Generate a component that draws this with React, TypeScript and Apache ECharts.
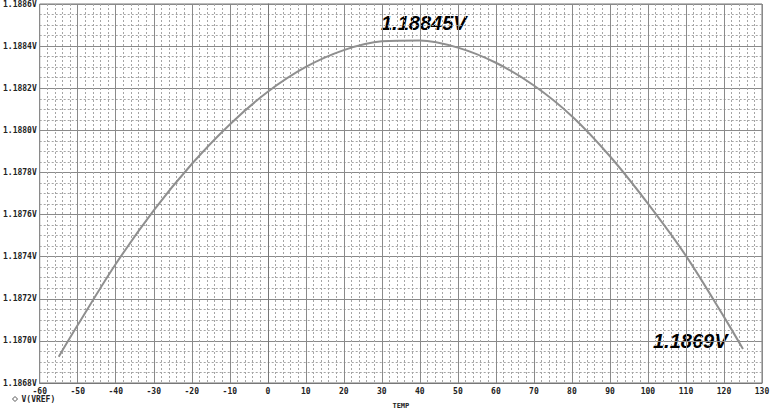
import React, { useEffect, useRef } from 'react';
import * as echarts from 'echarts';

// temperature sweep (deg C) and reference voltage
const temps = [-55, -50, -40, -30, -20, -10, 0, 10, 20, 30, 40, 50, 60, 70, 80, 90, 100, 110, 120, 125];
const vref = [
  1.186925, 1.187075, 1.187365, 1.187620, 1.187840, 1.188028, 1.188183, 1.188301, 1.188381, 1.188423,
  1.188427, 1.188393, 1.188321, 1.188213, 1.188067, 1.187877, 1.187652, 1.187404, 1.187114, 1.186961,
];
const peakLabel = '1.18845V';
const endLabel = '1.1869V';

const labelFont = { fontSize: 8, fontFamily: 'DejaVu Sans Mono', fontWeight: 'bold' as const, color: '#222' };

const App: React.FC = () => {
  const chartRef = useRef<HTMLDivElement>(null);

  useEffect(() => {
    if (!chartRef.current) return;
    const chart = echarts.init(chartRef.current, undefined, { renderer: 'svg' });
    const option = {
      animation: false,
      backgroundColor: '#fff',
      grid: { left: 39, top: 4, width: 723, height: 380, show: true, borderColor: '#777', borderWidth: 1 },
      legend: {
        left: 7,
        top: 390,
        icon: 'diamond',
        itemWidth: 5,
        itemHeight: 5,
        itemGap: 4,
        textStyle: { ...labelFont, padding: [0, 0, 0, -1] },
        data: [{ name: 'V(VREF)', itemStyle: { color: '#fff', borderColor: '#555', borderWidth: 1 } }],
      },
      xAxis: {
        type: 'value',
        min: -60,
        max: 130,
        interval: 10,
        name: 'TEMP',
        nameLocation: 'middle',
        nameGap: 19,
        nameTextStyle: { ...labelFont, fontSize: 7 },
        axisLine: { show: true, lineStyle: { color: '#777' } },
        axisTick: { show: false },
        axisLabel: { ...labelFont, margin: 4 },
        splitLine: { show: true, lineStyle: { color: '#8a8a8a', width: 1 } },
        minorTick: { show: false, splitNumber: 5 },
        minorSplitLine: { show: true, lineStyle: { color: '#a5a5a5', type: [2, 2], width: 1 } },
      },
      yAxis: {
        type: 'value',
        min: 1.1868,
        max: 1.1886,
        interval: 0.0002,
        axisLine: { show: true, lineStyle: { color: '#777' } },
        axisTick: { show: false },
        axisLabel: {
          ...labelFont,
          margin: 3,
          formatter: (v: number) => v.toFixed(4) + 'V',
        },
        splitLine: { show: true, lineStyle: { color: '#8a8a8a', width: 1 } },
        minorTick: { show: false, splitNumber: 4 },
        minorSplitLine: { show: true, lineStyle: { color: '#a5a5a5', type: [2, 2], width: 1 } },
      },
      series: [
        {
          name: 'V(VREF)',
          type: 'line',
          smooth: 0.35,
          showSymbol: false,
          data: temps.map((t, i) => [t, vref[i]]),
          lineStyle: { color: '#8f8f8f', width: 2 },
          itemStyle: { color: '#8f8f8f' },
        },
      ],
      graphic: [
        {
          type: 'text',
          left: 381,
          top: 13,
          style: {
            text: peakLabel,
            font: 'italic bold 20px "Liberation Sans", Arial, sans-serif',
            fill: '#000',
          },
        },
        {
          type: 'text',
          left: 653,
          top: 331,
          style: {
            text: endLabel,
            font: 'italic bold 20px "Liberation Sans", Arial, sans-serif',
            fill: '#000',
          },
        },
      ],
    };
    chart.setOption(option);
    return () => {
      chart.dispose();
    };
  }, []);

  return <div ref={chartRef} style={{ position: 'fixed', left: 0, top: 0, width: '774px', height: '414px' }}></div>;
};

export default App;
